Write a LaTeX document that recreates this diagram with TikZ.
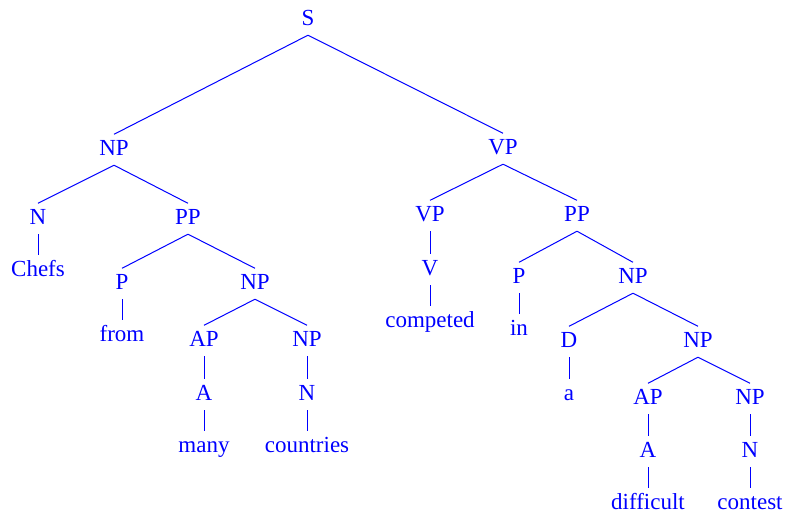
\documentclass[tikz,border=0pt]{standalone}
\usepackage{fontspec}
\setmainfont{Liberation Serif}
\begin{document}
\begin{tikzpicture}[x=1pt,y=-1pt,
  lbl/.style={anchor=base,text=blue,font=\fontsize{23}{27}\selectfont,
    text height=15.5pt,text depth=5pt,inner xsep=0pt,inner ysep=5pt},
  br/.style={draw=blue,line width=1pt}]
\useasboundingbox (0,0) rectangle (787,517);
% labels, placed on their baselines
\node[lbl] (s)    at (308,25)  {S};
\node[lbl] (np1)  at (114,155) {NP};
\node[lbl] (vp1)  at (503,154) {VP};
\node[lbl] (n1)   at (38,224)  {N};
\node[lbl] (pp1)  at (188,224) {PP};
\node[lbl] (chefs) at (38,276) {Chefs};
\node[lbl] (p1)   at (122,289) {P};
\node[lbl] (np2)  at (255,289) {NP};
\node[lbl] (from) at (122,341) {from};
\node[lbl] (ap1)  at (204,346) {AP};
\node[lbl] (np3)  at (307,346) {NP};
\node[lbl] (a1)   at (204,400) {A};
\node[lbl] (n2)   at (307,400) {N};
\node[lbl] (many) at (204,452) {many};
\node[lbl] (countries) at (307,452) {countries};
\node[lbl] (vp2)  at (430,221) {VP};
\node[lbl] (pp2)  at (577,221) {PP};
\node[lbl] (v)    at (430,275) {V};
\node[lbl] (competed) at (430,327) {competed};
\node[lbl] (p2)   at (519,283) {P};
\node[lbl] (np4)  at (633,283) {NP};
\node[lbl] (in)   at (519,335) {in};
\node[lbl] (d)    at (569,347) {D};
\node[lbl] (np5)  at (698,347) {NP};
\node[lbl] (a)    at (569,400) {a};
\node[lbl] (ap2)  at (648,404) {AP};
\node[lbl] (np6)  at (750,404) {NP};
\node[lbl] (a2)   at (648,457) {A};
\node[lbl] (n3)   at (750,457) {N};
\node[lbl] (difficult) at (648,509) {difficult};
\node[lbl] (contest)   at (750,509) {contest};
% branches
\foreach \p/\c in {s/np1,s/vp1,np1/n1,np1/pp1,n1/chefs,pp1/p1,pp1/np2,p1/from,
  np2/ap1,np2/np3,ap1/a1,np3/n2,a1/many,n2/countries,
  vp1/vp2,vp1/pp2,vp2/v,v/competed,pp2/p2,pp2/np4,p2/in,np4/d,np4/np5,d/a,
  np5/ap2,np5/np6,ap2/a2,np6/n3,a2/difficult,n3/contest}
  \draw[br] (\p.south) -- (\c.north);
\end{tikzpicture}
\end{document}
